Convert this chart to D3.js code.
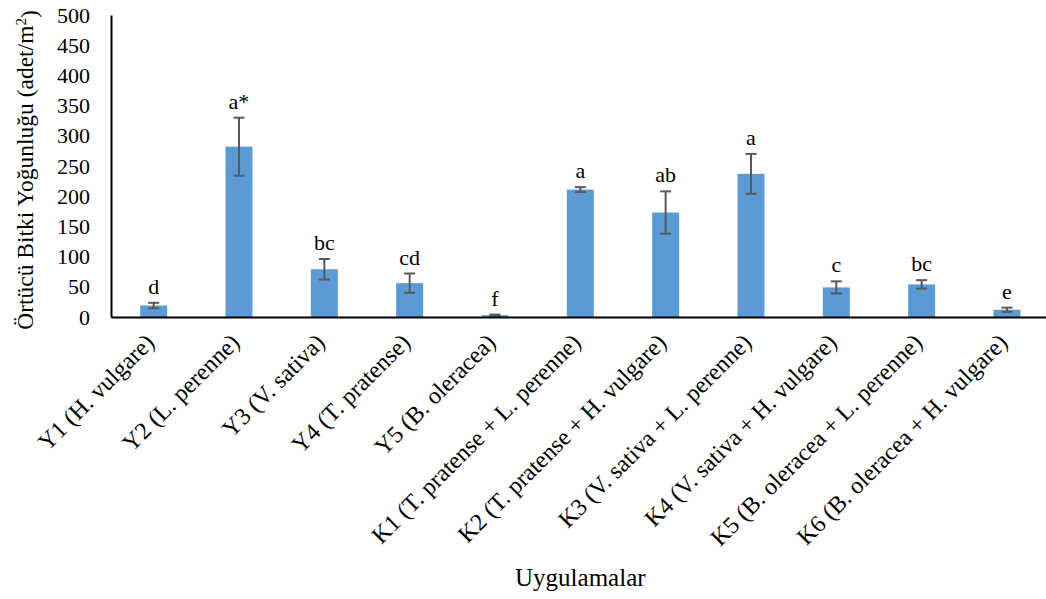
<!DOCTYPE html>
<html>
<head>
<meta charset="utf-8">
<script src="https://cdn.jsdelivr.net/npm/d3@7"></script>
<style>
  html, body { margin: 0; padding: 0; background: #fff; }
  svg { display: block; font-family: "Liberation Serif", "Times New Roman", serif; }
  text { font-family: "Liberation Serif", "Times New Roman", serif; fill: #000; }
</style>
</head>
<body>
<svg id="chart" width="1046" height="599"></svg>
<script>
// Treatments (sole crops Y1–Y5, mixtures K1–K6)
const categories = [
  "Y1 (H. vulgare)",
  "Y2 (L. perenne)",
  "Y3 (V. sativa)",
  "Y4 (T. pratense)",
  "Y5 (B. oleracea)",
  "K1 (T. pratense + L. perenne)",
  "K2 (T. pratense + H. vulgare)",
  "K3 (V. sativa + L. perenne)",
  "K4 (V. sativa + H. vulgare)",
  "K5 (B. oleracea + L. perenne)",
  "K6 (B. oleracea + H. vulgare)"
];
// Cover crop density (plants/m²), mean and standard error
const means   = [19, 282, 79, 56, 3, 211, 173, 237, 49, 54, 12];
const errors  = [4.5, 48, 17, 16, 1, 4, 35, 33, 10, 7, 3.5];
// Significance groups
const letters = ["d", "a*", "bc", "cd", "f", "a", "ab", "a", "c", "bc", "e"];
// Value axis ticks
const yTicks  = [0, 50, 100, 150, 200, 250, 300, 350, 400, 450, 500];

const serif = "'Liberation Serif', 'Times New Roman', serif";
const svg = d3.select("#chart");
const plotLeft = 111, plotTop = 15, plotBottom = 317;
const nBars = categories.length;
const stepPx = 85.33;
const plotRight = plotLeft + stepPx * nBars;

const x = d3.scaleBand()
  .domain(categories)
  .range([plotLeft, plotRight])
  .paddingInner(0.684)
  .paddingOuter(0.342);

const y = d3.scaleLinear()
  .domain([0, 500])
  .range([plotBottom, plotTop]);

const barColor = "#5B9BD5";
const errColor = "#595959";

// Bars
svg.append("g")
  .selectAll("rect")
  .data(categories)
  .join("rect")
  .attr("x", d => x(d))
  .attr("y", (d, i) => y(means[i]))
  .attr("width", x.bandwidth())
  .attr("height", (d, i) => y(0) - y(means[i]))
  .attr("fill", barColor);

// Error bars
const capHalf = 5.5;
const eg = svg.append("g").attr("stroke", errColor).attr("stroke-width", 2).attr("fill", "none");
categories.forEach((c, i) => {
  const cx = x(c) + x.bandwidth() / 2;
  const hi = y(means[i] + errors[i]);
  const lo = y(Math.max(0, means[i] - errors[i]));
  eg.append("line").attr("x1", cx).attr("x2", cx).attr("y1", hi).attr("y2", lo);
  eg.append("line").attr("x1", cx - capHalf).attr("x2", cx + capHalf).attr("y1", hi).attr("y2", hi);
  eg.append("line").attr("x1", cx - capHalf).attr("x2", cx + capHalf).attr("y1", lo).attr("y2", lo);
});

// Significance letters above the error bars
svg.append("g")
  .selectAll("text")
  .data(categories)
  .join("text")
  .attr("x", d => x(d) + x.bandwidth() / 2)
  .attr("y", (d, i) => y(means[i] + errors[i]) - 9)
  .attr("text-anchor", "middle")
  .style("font-family", serif)
  .style("font-size", "22px")
  .text((d, i) => letters[i]);

// Y axis
const yAxis = svg.append("g")
  .attr("transform", `translate(${plotLeft},0)`)
  .call(d3.axisLeft(y).tickValues(yTicks).tickSize(0).tickPadding(21));
yAxis.attr("font-family", null).attr("font-size", null);
yAxis.select(".domain").attr("stroke", "#000").attr("stroke-width", 2);
yAxis.selectAll("text")
  .style("font-size", "22px")
  .style("font-family", serif)
  .attr("fill", "#000");

// X axis with rotated category labels
const xAxis = svg.append("g")
  .attr("transform", `translate(0,${plotBottom})`)
  .call(d3.axisBottom(x).tickSize(0));
xAxis.attr("font-family", null).attr("font-size", null);
xAxis.select(".domain").attr("stroke", "#000").attr("stroke-width", 2);
xAxis.selectAll("text")
  .attr("x", 0)
  .attr("y", 0)
  .attr("dy", "0.35em")
  .attr("transform", "translate(-4,21) rotate(-45)")
  .attr("text-anchor", "end")
  .style("font-size", "24px")
  .style("font-family", serif)
  .attr("fill", "#000");

// Axis titles
svg.append("text")
  .attr("x", (plotLeft + plotRight) / 2)
  .attr("y", 586)
  .attr("text-anchor", "middle")
  .style("font-family", serif)
  .style("font-size", "25px")
  .text("Uygulamalar");

const yTitle = svg.append("text")
  .attr("transform", "translate(33,170) rotate(-90)")
  .attr("text-anchor", "middle")
  .style("font-family", serif)
  .style("font-size", "23.5px");
yTitle.append("tspan").text("Örtücü Bitki Yoğunluğu (adet/m");
yTitle.append("tspan").attr("dy", "-0.45em").style("font-size", "15px").text("2");
yTitle.append("tspan").attr("dy", "0.45em").text(")");
</script>
</body>
</html>
